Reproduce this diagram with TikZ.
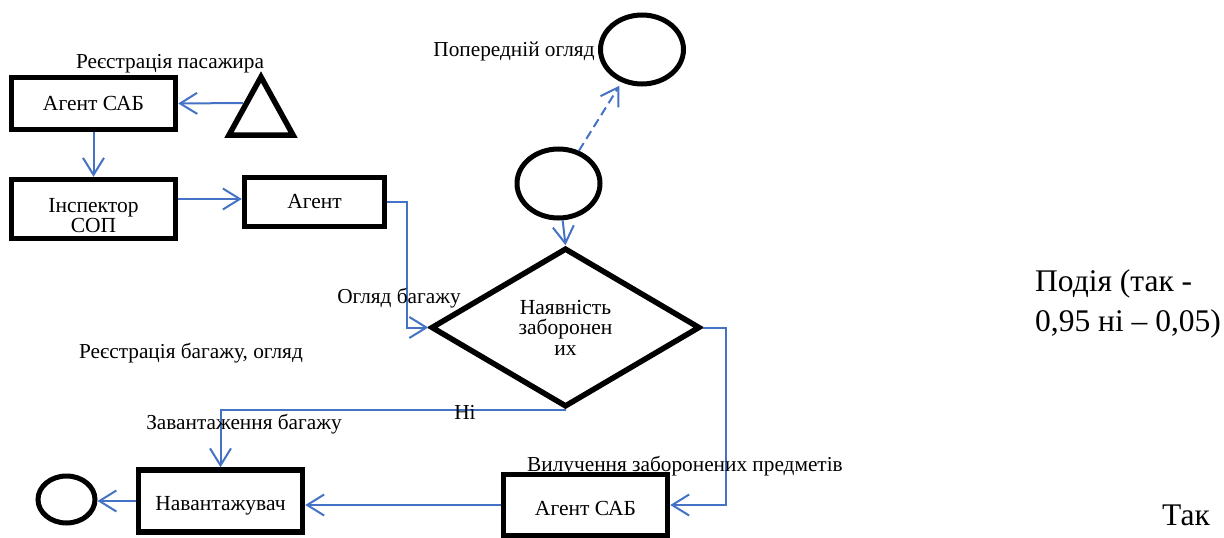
\documentclass[tikz,border=0pt]{standalone}
\usepackage{fontspec}
\setmainfont{Liberation Serif}
\usetikzlibrary{arrows.meta,shapes.geometric}
\definecolor{conncol}{RGB}{68,114,196}
\newcommand{\pushdown}[1]{\rule{0pt}{#1}}
\begin{document}
\begin{tikzpicture}[x=1pt,y=-1pt,
  box/.style={draw, line width=5.5pt, inner sep=0pt, align=center, font=\fontsize{21.5}{20}\selectfont},
  ell/.style={draw, ellipse, line width=5pt, inner sep=0pt},
  conn/.style={draw=conncol, line width=2pt, -{Straight Barb[length=17pt,width=21pt]}},
  lbl/.style={inner sep=0pt, font=\fontsize{21.3}{24}\selectfont},
  big/.style={inner sep=0pt, align=left, font=\fontsize{31.5}{40}\selectfont}]
\useasboundingbox (0,0) rectangle (1224,538);

% boxes
\node[box, minimum width=164pt, minimum height=52pt] (b1) at (93.5,103.5) {Агент САБ};
\node[box, minimum width=164pt, minimum height=59pt] (insp) at (93.5,209) {\pushdown{27pt}Інспектор\\СОП};
\node[box, minimum width=140pt, minimum height=49pt] (ag) at (314.5,202) {Агент};
\node[box, minimum width=164pt, minimum height=62pt] (nav) at (220.5,501) {\pushdown{24pt}Навантажувач};
\node[box, minimum width=164pt, minimum height=61pt] (ag2) at (585.5,505) {\pushdown{21pt}Агент САБ};

% triangle
\draw[line width=5.5pt] (261,77) -- (293,135) -- (229,135) -- cycle;
\coordinate (triL) at (243,103);

% diamond
\node[draw, diamond, aspect=1.7, line width=5.5pt, inner sep=0pt, minimum width=269pt, minimum height=159pt,
      align=center, font=\fontsize{21.5}{20.5}\selectfont] (dia) at (565.5,327.5) {Наявність\\заборонен\\их};

% ellipses
\node[ell, minimum width=83pt, minimum height=69pt] (mid) at (558.5,183.5) {};
\node[ell, minimum width=83pt, minimum height=69pt] (topc) at (642,49.5) {};
\node[ell, minimum width=57pt, minimum height=47pt] (endc) at (66.5,499.5) {};

% connectors
\draw[conn] (triL) -- (b1.east);
\draw[conn] (b1.south) -- (insp.north);
\coordinate (ie) at ([yshift=10pt]insp.east);
\draw[conn] (ie) -- (ie -| ag.west);
\draw[conn] (ag.east) -- ++(20,0) |- (dia.west);
\draw[conn] (mid) -- (dia.north);
\draw[conn, dash pattern=on 9pt off 5pt, shorten >=4pt] (mid) -- (topc);
\draw[conn] (dia.south) -| (nav.north);
\draw[conn] (dia.east) -- ++(23,0) |- (ag2.east);
\draw[conn] (ag2.west) -- (ag2.west -| nav.east);
\draw[conn] (nav.west) -- (nav.west -| endc.east);

% labels
\node[lbl] (l1) at (170,64) {Реєстрація пасажира};
\node[lbl] (l2) at (514,51) {Попередній огляд};
\node[lbl] (l3) at (399,298) {Огляд багажу};
\node[lbl] (l4) at (191,353) {Реєстрація багажу, огляд};
\node[lbl] (l5) at (465,412) {Ні};
\node[lbl] (l6) at (244,424) {Завантаження багажу};
\node[lbl] (l7) at (685,466) {Вилучення заборонених предметів};
\node[big, anchor=north west] (l8) at (1035,269) {Подія (так -\\0,95 ні – 0,05)};
\node[big] (l9) at (1186,515) {Так};
\end{tikzpicture}
\end{document}
